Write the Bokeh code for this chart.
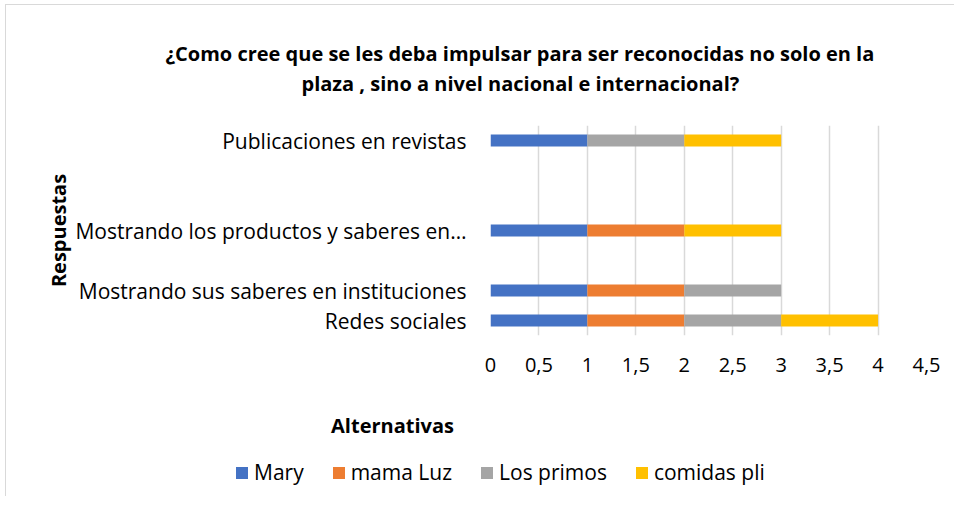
from bokeh.plotting import figure
from bokeh.layouts import column
from bokeh.models import (Range1d, FactorRange, FixedTicker, CustomJSTickFormatter,
                          Title, Legend, LegendItem, Label, ColumnDataSource)
from bokeh.embed import file_html
from bokeh.resources import INLINE

# ---- data (bottom to top) ----
categories = ["Redes sociales",
              "Mostrando sus saberes en instituciones",
              " ",
              "Mostrando los productos y saberes en\u2026",
              "  ",
              "   ",
              "Publicaciones en revistas"]
series_names = ["Mary", "mama Luz", "Los primos", "comidas pli"]
mary       = [1, 1, 0, 1, 0, 0, 1]
mama_luz   = [1, 1, 0, 1, 0, 0, 0]
los_primos = [1, 1, 0, 0, 0, 0, 1]
comidas    = [1, 0, 0, 1, 0, 0, 1]
colors = ["#4472C4", "#ED7D31", "#A5A5A5", "#FFC000"]
x_ticks = [0, 0.5, 1, 1.5, 2, 2.5, 3, 3.5, 4, 4.5]

title_l1 = "\u00bfComo cree que se les deba impulsar para ser reconocidas no solo en la"
title_l2 = "plaza , sino a nivel nacional e internacional?"
y_title = "Respuestas"
x_title = "Alternativas"

FONT = "Open Sans"
TXT = "#000000"

source = ColumnDataSource({"cat": categories, "Mary": mary, "mama Luz": mama_luz,
                           "Los primos": los_primos, "comidas pli": comidas})

OX, OY = 6, 5                          # canvas origin on the page
FL, FT, FR, FB = 490, 125, 926, 335    # frame edges on the page
W = 948
TOP = 105                              # page y where the main chart canvas starts
SPLIT = 400                            # page y where the bottom strip starts
H0 = TOP - OY
H1 = SPLIT - TOP
H2 = 96

def strip(height):
    f = figure(width=W, height=height, output_backend="svg", toolbar_location=None,
               x_range=Range1d(0, 4.5), y_range=FactorRange(factors=categories),
               min_border=0, frame_align=False)
    f.outline_line_color = None
    f.axis.visible = False
    f.grid.visible = False
    f.title = None
    return f

def label(fig, text, px, py, top, height, size, align="center"):
    fig.add_layout(Label(x=px - OX, y=height - (py - top), x_units="screen", y_units="screen",
                         text=text, text_font=FONT, text_font_size=size,
                         text_font_style="bold", text_color=TXT,
                         text_align=align, text_baseline="middle"))

# ---------------- title strip ----------------
t = strip(H0)
label(t, title_l1, 165, 53, OY, H0, "20px", align="left")
label(t, title_l2, 301, 83, OY, H0, "20px", align="left")

# ---------------- main chart ----------------
p = figure(width=W, height=H1, output_backend="svg", toolbar_location=None,
           y_range=FactorRange(factors=categories, range_padding=0),
           x_range=Range1d(0, 4.5), frame_align=False,
           min_border_left=FL - OX, min_border_right=OX + W - FR,
           min_border_top=FT - TOP, min_border_bottom=SPLIT - FB)
p.title = None
p.outline_line_color = None
p.background_fill_color = "white"
p.border_fill_color = "white"

p.hbar_stack(series_names, y="cat", height=0.4, color=colors,
             line_color=None, source=source)

p.xaxis.ticker = FixedTicker(ticks=x_ticks)
p.xaxis.formatter = CustomJSTickFormatter(code="return tick.toString().replace('.', ',');")
for ax in (p.xaxis[0], p.yaxis[0]):
    ax.axis_line_color = None
    ax.major_tick_line_color = None
    ax.minor_tick_line_color = None
    ax.major_tick_out = 0
    ax.major_tick_in = 0
    ax.major_label_text_font = FONT
    ax.major_label_text_color = TXT
p.xaxis.major_label_text_font_size = "20px"
p.yaxis.major_label_text_font_size = "21px"
p.xaxis.major_label_standoff = 22
p.yaxis.major_label_standoff = 24

p.xgrid.grid_line_color = "#d9d9d9"
p.xgrid.grid_line_width = 1.5
p.ygrid.grid_line_color = None

p.add_layout(Title(text=y_title, text_font=FONT, text_font_size="20px",
                   text_font_style="bold", text_color=TXT, align="center",
                   standoff=2), "left")

# ---------------- bottom strip: axis title + legend ----------------
q = strip(H2)
label(q, x_title, 392, 425, SPLIT, H2, "20px")

# same series as the chart; hidden here, they only supply the legend swatches
legend_renderers = q.hbar_stack(series_names, y="cat", height=0.4, color=colors,
                                line_color=None, source=source)
for r in legend_renderers:
    r.visible = False
legend = Legend(items=[LegendItem(label=n, renderers=[r])
                       for n, r in zip(series_names, legend_renderers)],
                orientation="horizontal", location=(234 - OX, H2 - (486 - SPLIT)),
                glyph_width=15, glyph_height=15, label_standoff=5, spacing=27,
                padding=0, margin=0, border_line_color=None, click_policy="none",
                background_fill_alpha=0, label_text_font=FONT,
                label_text_font_size="21px", label_text_color=TXT)
q.add_layout(legend, "center")

layout = column(t, p, q, spacing=0,
                styles={"margin-left": "5px", "margin-top": "4px",
                        "border-top": "1px solid #d9d9d9", "border-left": "1px solid #d9d9d9"})

open("out.html", "w").write(file_html(layout, INLINE))
